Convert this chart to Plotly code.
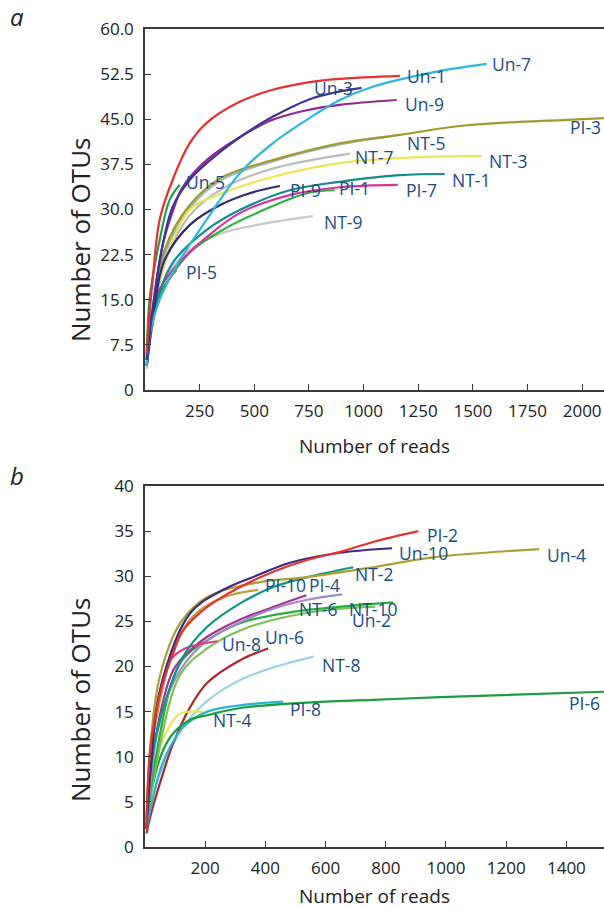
import plotly.graph_objects as go

# ---------------- Panel a data (reads, OTUs) ----------------
A_UN1_X = [8, 21, 35, 67, 126, 204, 282, 433, 584, 740, 891, 1166]
A_UN1_Y = [6, 12.8, 18.3, 28.3, 34.9, 41.0, 44.4, 47.9, 49.9, 51.1, 51.7, 52.2]
A_UN3_X = [8, 30, 70, 126, 204, 282, 433, 584, 767, 991]
A_UN3_Y = [5, 12, 22, 30.4, 34.9, 37.7, 42.0, 45.4, 48.5, 50.2]
A_UN5_X = [8, 21, 67, 113, 159]
A_UN5_Y = [5, 15, 24.9, 31.6, 34.1]
A_UN7_X = [8, 21, 67, 150, 282, 433, 584, 740, 891, 1042, 1317, 1563]
A_UN7_Y = [4, 9, 15, 21, 28.3, 36.0, 41.0, 44.9, 48.2, 50.4, 52.8, 54.2]
A_UN9_X = [8, 30, 80, 130, 172, 282, 433, 584, 740, 891, 1151]
A_UN9_Y = [5, 12, 24, 30, 33.7, 38.2, 42.0, 44.9, 46.5, 47.4, 48.2]
A_NT1_X = [8, 44, 126, 282, 433, 662, 891, 1166, 1371]
A_NT1_Y = [4, 13.3, 21.1, 26.6, 29.9, 33.2, 34.6, 35.7, 35.9]
A_NT3_X = [8, 30, 67, 204, 355, 584, 891, 1197, 1541]
A_NT3_Y = [4, 10, 18.3, 29.9, 32.7, 35.4, 37.7, 38.6, 38.9]
A_NT5_X = [8, 30, 90, 204, 355, 584, 891, 1166]
A_NT5_Y = [4, 11, 22.5, 30.2, 35.0, 38.0, 40.8, 42.4]
A_NT7_X = [8, 30, 90, 204, 355, 584, 938]
A_NT7_Y = [4, 10, 21, 29.0, 33.5, 36.8, 39.3]
A_NT9_X = [8, 40, 90, 204, 355, 584, 768]
A_NT9_Y = [3.5, 12, 18.3, 23.3, 26.1, 27.9, 28.9]
A_PL1_X = [8, 30, 67, 204, 355, 511, 740, 868]
A_PL1_Y = [4, 10, 15.5, 22.8, 26.6, 29.4, 32.7, 33.2]
A_PL3_X = [8, 30, 90, 204, 355, 584, 891, 1166, 1473, 1931, 2100]
A_PL3_Y = [4, 11, 23.3, 30.7, 35.4, 38.2, 41.0, 42.4, 44.0, 44.9, 45.2]
A_PL5_X = [8, 21, 67, 113, 144]
A_PL5_Y = [4, 11.6, 15.8, 18.6, 19.9]
A_PL7_X = [8, 53, 126, 282, 433, 662, 891, 1157]
A_PL7_Y = [4, 15.5, 19.9, 25.4, 29.4, 32.4, 33.7, 34.1]
A_PL9_X = [8, 40, 90, 204, 342, 479, 617]
A_PL9_Y = [4, 13, 21.6, 27.4, 30.7, 32.7, 33.9]

A_NAMES = ["NT-9", "Pl-5", "NT-7", "NT-5", "Pl-3", "NT-3", "Pl-1", "Pl-7", "NT-1",
           "Pl-9", "Un-5", "Un-9", "Un-7", "Un-3", "Un-1"]
A_XS = [A_NT9_X, A_PL5_X, A_NT7_X, A_NT5_X, A_PL3_X, A_NT3_X, A_PL1_X, A_PL7_X, A_NT1_X,
        A_PL9_X, A_UN5_X, A_UN9_X, A_UN7_X, A_UN3_X, A_UN1_X]
A_YS = [A_NT9_Y, A_PL5_Y, A_NT7_Y, A_NT5_Y, A_PL3_Y, A_NT3_Y, A_PL1_Y, A_PL7_Y, A_NT1_Y,
        A_PL9_Y, A_UN5_Y, A_UN9_Y, A_UN7_Y, A_UN3_Y, A_UN1_Y]

# ---------------- Panel b data (reads, OTUs) ----------------
B_PL2_X = [5, 17, 50, 94, 127, 207, 316, 426, 539, 648, 758, 908]
B_PL2_Y = [2, 10.7, 17, 21.5, 24.0, 26.6, 28.8, 30.5, 31.8, 32.7, 33.8, 35.0]
B_UN10_X = [5, 20, 50, 150, 260, 373, 482, 648, 821]
B_UN10_Y = [2, 9, 17.4, 25.9, 28.5, 30.1, 31.5, 32.6, 33.1]
B_UN4_X = [5, 20, 50, 117, 207, 373, 539, 758, 957, 1310]
B_UN4_Y = [3, 12, 19, 24.8, 27.7, 29.3, 29.9, 31.0, 32.1, 33.0]
B_NT2_X = [5, 34, 127, 207, 316, 426, 539, 692]
B_NT2_Y = [2, 11.9, 21.1, 24.4, 27.0, 28.8, 29.9, 31.0]
B_PL10_X = [5, 17, 50, 94, 150, 207, 283, 377]
B_PL10_Y = [3, 9.6, 16.3, 21.8, 25.2, 26.8, 27.9, 28.5]
B_PL4_X = [5, 50, 117, 207, 316, 426, 539, 655]
B_PL4_Y = [2, 14.1, 19.6, 22.9, 24.9, 26.4, 27.4, 28.0]
B_NT6_X = [5, 34, 94, 150, 207, 316, 426, 536]
B_NT6_Y = [2, 11.9, 19.6, 21.8, 23.3, 25.2, 26.6, 27.9]
B_NT10_X = [5, 34, 117, 207, 316, 482, 672, 825]
B_NT10_Y = [2, 9.6, 20.4, 22.9, 24.8, 26.0, 26.7, 27.1]
B_UN2_X = [5, 34, 117, 207, 316, 482, 648, 765]
B_UN2_Y = [2, 8.5, 19.1, 22.0, 24.0, 25.6, 26.4, 26.6]
B_UN8_X = [5, 17, 44, 84, 133, 240]
B_UN8_Y = [3, 8.5, 16.3, 20.7, 22.0, 22.8]
B_UN6_X = [5, 17, 50, 94, 150, 207, 316, 409]
B_UN6_Y = [1.5, 3.3, 7.1, 11.5, 15.5, 18.2, 20.7, 22.0]
B_NT8_X = [5, 34, 94, 150, 207, 316, 426, 560]
B_NT8_Y = [2, 6.5, 11.5, 14.3, 16.2, 18.5, 19.9, 21.1]
B_PL6_X = [5, 27, 60, 94, 150, 207, 316, 539, 758, 981, 1525]
B_PL6_Y = [2, 7.1, 10.7, 12.6, 14.1, 14.6, 15.4, 16.0, 16.3, 16.6, 17.2]
B_PL8_X = [5, 50, 84, 127, 207, 316, 459]
B_PL8_Y = [2, 8.5, 11.1, 13.3, 15.0, 15.7, 16.1]
B_NT4_X = [5, 17, 50, 84, 117, 194]
B_NT4_Y = [2, 6.3, 11.1, 13.5, 14.8, 15.0]

B_NAMES = ["NT-8", "Un-6", "NT-4", "Pl-8", "Pl-6", "Un-2", "NT-10", "NT-6", "Pl-4",
           "Un-8", "NT-2", "Pl-10", "Un-4", "Un-10", "Pl-2"]
B_XS = [B_NT8_X, B_UN6_X, B_NT4_X, B_PL8_X, B_PL6_X, B_UN2_X, B_NT10_X, B_NT6_X, B_PL4_X,
        B_UN8_X, B_NT2_X, B_PL10_X, B_UN4_X, B_UN10_X, B_PL2_X]
B_YS = [B_NT8_Y, B_UN6_Y, B_NT4_Y, B_PL8_Y, B_PL6_Y, B_UN2_Y, B_NT10_Y, B_NT6_Y, B_PL4_Y,
        B_UN8_Y, B_NT2_Y, B_PL10_Y, B_UN4_Y, B_UN10_Y, B_PL2_Y]

# Tick labels
A_XTICKS = [250, 500, 750, 1000, 1250, 1500, 1750, 2000]
A_YTICKS = [0, 7.5, 15, 22.5, 30, 37.5, 45, 52.5, 60]
A_YTICKTEXT = ["0", "7.5", "15.0", "22.5", "30.0", "37.5", "45.0", "52.5", "60.0"]
B_XTICKS = [200, 400, 600, 800, 1000, 1200, 1400]
B_YTICKS = [0, 5, 10, 15, 20, 25, 30, 35, 40]

# ---------------- Styles ----------------
A_COLORS = {
    "Un-1": "#e8302c", "Un-3": "#3e3394", "Un-5": "#22a04a", "Un-7": "#2ab8dc", "Un-9": "#8e2c8e",
    "NT-1": "#128c8c", "NT-3": "#ece650", "NT-5": "#9cb8cc", "NT-7": "#b8bcc0", "NT-9": "#c8c8c8",
    "Pl-1": "#2cb044", "Pl-3": "#a09a30", "Pl-5": "#c4502a", "Pl-7": "#d8349c", "Pl-9": "#2c2c74",
}
B_COLORS = {
    "Pl-2": "#e8322e", "Un-10": "#3a2a86", "Un-4": "#a8a032", "NT-2": "#0e9480", "Pl-10": "#b9a23a",
    "Pl-4": "#9b8ccc", "NT-6": "#a5338e", "NT-10": "#2aae3e", "Un-2": "#7cc24e", "Un-8": "#e2388c",
    "Un-6": "#a8282a", "NT-8": "#9ad4e4", "Pl-6": "#1c9c3a", "Pl-8": "#2ab4d4", "NT-4": "#ece45a",
}

# Label anchor positions (data coords: left edge, vertical middle)
A_LABELS = {
    "Un-1": (1188, 52.2), "Un-7": (1578, 54.2), "Un-3": (763, 50.2), "Un-9": (1179, 47.5),
    "NT-5": (1188, 41.0), "Pl-3": (1935, 43.7), "NT-7": (951, 38.7), "NT-3": (1565, 38.1),
    "NT-1": (1395, 34.9), "Pl-7": (1184, 33.2), "Pl-1": (877, 33.6), "Pl-9": (653, 33.2),
    "NT-9": (809, 27.9), "Un-5": (177, 34.6), "Pl-5": (177, 19.6),
}
B_LABELS = {
    "Pl-2": (931, 34.6), "Un-10": (838, 32.6), "Un-4": (1330, 32.4), "NT-2": (692, 30.2),
    "Pl-10": (393, 29.0), "Pl-4": (539, 29.0), "NT-6": (506, 26.4), "NT-10": (671, 26.4),
    "Un-2": (681, 25.2), "Un-8": (250, 22.5), "Un-6": (393, 23.3), "NT-8": (582, 20.2),
    "Pl-8": (476, 15.3), "NT-4": (220, 14.1), "Pl-6": (1403, 16.0),
}

FONT = "Open Sans, sans-serif"
LABEL_COLOR = "#1b4b84"
W, H = 604, 908

fig = go.Figure()
for name, xs, ys in zip(A_NAMES, A_XS, A_YS):
    fig.add_trace(go.Scatter(x=xs, y=ys, mode="lines", name=name, xaxis="x", yaxis="y",
                             line=dict(color=A_COLORS[name], width=2.2, shape="spline", smoothing=1.0),
                             showlegend=False, hoverinfo="skip"))
for name, xs, ys in zip(B_NAMES, B_XS, B_YS):
    fig.add_trace(go.Scatter(x=xs, y=ys, mode="lines", name=name, xaxis="x2", yaxis="y2",
                             line=dict(color=B_COLORS[name], width=2.2, shape="spline", smoothing=1.0),
                             showlegend=False, hoverinfo="skip"))

annotations = []
for name, (lx, ly) in A_LABELS.items():
    annotations.append(dict(x=lx, y=ly, xref="x", yref="y", text=name.replace("Pl", "PI"),
                            showarrow=False, xanchor="left", yanchor="middle",
                            font=dict(family=FONT, size=17.5, color=LABEL_COLOR)))
for name, (lx, ly) in B_LABELS.items():
    annotations.append(dict(x=lx, y=ly, xref="x2", yref="y2", text=name.replace("Pl", "PI"),
                            showarrow=False, xanchor="left", yanchor="middle",
                            font=dict(family=FONT, size=17.5, color=LABEL_COLOR)))

def px_ann(text, x, y, size, angle=0, italic=False):
    return dict(x=x / W, y=1 - y / H, xref="paper", yref="paper", text=text, showarrow=False,
                xanchor="center", yanchor="middle", textangle=angle,
                font=dict(family=FONT, size=size, color="#222222", style="italic" if italic else "normal"))

annotations += [
    px_ann("a", 17, 17, 24, italic=True),
    px_ann("b", 17, 475, 24, italic=True),
    px_ann("Number of OTUs", 80, 240, 26, angle=-90),
    px_ann("Number of OTUs", 80, 700, 26, angle=-90),
    px_ann("Number of reads", 374, 446, 19),
    px_ann("Number of reads", 374, 896, 19),
]

axis_common = dict(showgrid=False, zeroline=False, showline=True, linecolor="#3a3a3a", linewidth=1.5,
                   ticks="inside", ticklen=6, tickwidth=1.2, tickcolor="#3a3a3a",
                   tickfont=dict(family=FONT, size=17, color="#222222"), automargin=False,
                   tickmode="array", fixedrange=True)

fig.update_layout(
    width=W, height=H, margin=dict(l=0, r=0, t=0, b=0),
    paper_bgcolor="white", plot_bgcolor="white", template="none",
    xaxis=dict(**axis_common, domain=[145 / W, 1], range=[0, 2100], tickvals=A_XTICKS,
               ticktext=[str(v) for v in A_XTICKS], anchor="y", mirror=True, ticklabelstandoff=5),
    yaxis=dict(**axis_common, domain=[1 - 390 / H, 1 - 29 / H], range=[0, 60], tickvals=A_YTICKS,
               ticktext=A_YTICKTEXT, anchor="x", ticklabelstandoff=6),
    xaxis2=dict(**axis_common, domain=[145 / W, 1], range=[0, 1525], tickvals=B_XTICKS,
                ticktext=[str(v) for v in B_XTICKS], anchor="y2", mirror=True, ticklabelstandoff=5),
    yaxis2=dict(**axis_common, domain=[1 - 847 / H, 1 - 486 / H], range=[0, 40], tickvals=B_YTICKS,
                ticktext=[str(v) for v in B_YTICKS], anchor="x2", ticklabelstandoff=6),
    annotations=annotations,
)

fig.write_html("out.html", config={"displayModeBar": False},
               post_script="document.body.style.margin='0px';document.body.style.padding='0px';"
                           "document.documentElement.style.overflow='hidden';")
